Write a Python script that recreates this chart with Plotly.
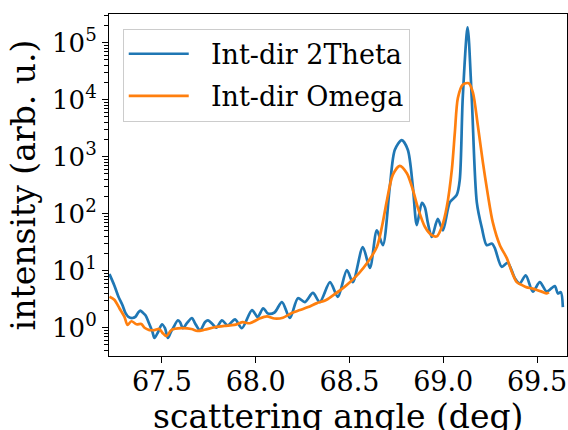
import plotly.graph_objects as go

# Int-dir 2Theta (blue)
x_2theta = [67.220, 67.246, 67.268, 67.289, 67.305, 67.321, 67.342, 67.358, 67.374, 67.385,
            67.396, 67.412, 67.428, 67.449, 67.460, 67.480, 67.500, 67.516, 67.532, 67.548,
            67.559, 67.585, 67.596, 67.612, 67.633, 67.660, 67.676, 67.703, 67.730, 67.745,
            67.770, 67.790, 67.820, 67.850, 67.890, 67.926, 67.980, 68.010, 68.040, 68.065,
            68.100, 68.140, 68.182, 68.225, 68.262, 68.305, 68.342, 68.396, 68.438, 68.486,
            68.518, 68.571, 68.609, 68.646, 68.678, 68.715, 68.742, 68.779, 68.811, 68.838,
            68.859, 68.886, 68.902, 68.918, 68.939, 68.971, 68.998, 69.035, 69.072, 69.088,
            69.104, 69.130, 69.152, 69.179, 69.206, 69.232, 69.259, 69.275, 69.312, 69.344,
            69.382, 69.408, 69.440, 69.478, 69.515, 69.552, 69.595, 69.611, 69.627, 69.638]
y_2theta = [8.7, 5.5, 3.5, 2.5, 1.82, 1.55, 1.48, 1.55, 1.86, 2.0,
            1.86, 1.66, 1.26, 0.85, 0.66, 0.85, 1.15, 0.98, 0.66, 0.85,
            0.98, 1.35, 1.26, 0.98, 1.2, 1.48, 1.2, 0.9, 1.26, 1.35,
            1.15, 1.0, 1.35, 1.1, 1.4, 0.98, 2.04, 1.54, 2.19, 1.77,
            1.85, 2.82, 1.48, 3.3, 2.82, 4.07, 2.82, 6.3, 3.47, 10.2,
            6.3, 26.0, 11.2, 51.0, 28.0, 295.0, 1320.0, 1950.0, 1320.0, 295.0,
            63.0, 155.0, 130.0, 69.0, 39.0, 81.0, 51.0, 158.0, 214.0, 389.0,
            10700.0, 186000.0, 10700.0, 158.0, 56.0, 28.0, 30.0, 25.0, 11.7, 13.8,
            7.4, 6.0, 8.3, 4.3, 6.3, 4.3, 5.4, 4.0, 4.2, 2.3]

# Int-dir Omega (orange)
x_omega = [67.220, 67.246, 67.273, 67.300, 67.316, 67.337, 67.364, 67.390, 67.407, 67.433,
           67.460, 67.486, 67.503, 67.524, 67.550, 67.604, 67.657, 67.689, 67.726, 67.780,
           67.833, 67.886, 67.929, 67.969, 68.020, 68.060, 68.100, 68.145, 68.190, 68.236,
           68.280, 68.326, 68.370, 68.412, 68.460, 68.502, 68.550, 68.593, 68.646, 68.673,
           68.700, 68.731, 68.768, 68.806, 68.838, 68.865, 68.902, 68.939, 68.966, 68.993,
           69.019, 69.046, 69.062, 69.078, 69.104, 69.136, 69.158, 69.184, 69.211, 69.238,
           69.264, 69.302, 69.339, 69.366, 69.392, 69.420, 69.446, 69.472, 69.499, 69.525,
           69.552, 69.563]
y_omega = [3.5, 3.1, 2.2, 1.55, 1.12, 1.3, 1.15, 1.16, 1.0, 0.91,
           0.91, 0.95, 0.81, 0.71, 0.91, 0.98, 0.95, 0.88, 0.92, 1.02,
           1.08, 1.12, 1.25, 1.2, 1.45, 1.58, 1.45, 1.5, 1.8, 2.04,
           2.3, 2.7, 3.0, 3.7, 4.8, 6.3, 9.0, 13.5, 26.0, 59.0,
           174.0, 479.0, 692.0, 513.0, 263.0, 126.0, 59.0, 42.0, 40.0, 59.0,
           132.0, 600.0, 2690.0, 10700.0, 18200.0, 19500.0, 13500.0, 3630.0, 813.0, 214.0,
           71.0, 28.0, 16.6, 9.5, 6.3, 5.6, 5.1, 4.9, 4.6, 4.3,
           4.0, 4.2]

series_names = ["\u00a0\u00a0Int-dir 2Theta", "\u00a0\u00a0Int-dir Omega"]
x_title = "scattering angle (deg)"
y_title = "intensity (arb. u.)"
x_tickvals = [67.5, 68.0, 68.5, 69.0, 69.5]
x_ticktext = ["67.5", "68.0", "68.5", "69.0", "69.5"]
y_tickvals = [1, 10, 100, 1000, 10000, 100000]
y_ticktext = ["10<sup>0</sup>", "10<sup>1</sup>", "10<sup>2</sup>",
              "10<sup>3</sup>", "10<sup>4</sup>", "10<sup>5</sup>"]

FONT = "DejaVu Serif"

fig = go.Figure()
fig.add_trace(go.Scatter(x=x_2theta, y=y_2theta, mode="lines", name=series_names[0],
                         legendgroup="a",
                         line=dict(color="#1f77b4", width=2.7, shape="spline", smoothing=0.8)))
fig.add_trace(go.Scatter(x=x_omega, y=y_omega, mode="lines", name=series_names[1],
                         legendgroup="b",
                         line=dict(color="#ff7f0e", width=2.7, shape="spline", smoothing=0.8)))

axis_common = dict(showline=True, linecolor="black", linewidth=1.1, mirror=True,
                   ticks="outside", ticklen=6, tickwidth=1.1, tickcolor="black",
                   showgrid=False, zeroline=False, automargin=False)

fig.update_layout(
    width=568, height=430,
    margin=dict(l=109, r=1, t=14, b=74),
    paper_bgcolor="white", plot_bgcolor="white",
    font=dict(family=FONT, color="black"),
    showlegend=True,
    legend=dict(x=0.03, y=0.957, xanchor="left", yanchor="top",
                bgcolor="rgba(255,255,255,0.8)", bordercolor="#cccccc", borderwidth=1,
                font=dict(family=FONT, size=27, color="black"),
                tracegroupgap=4, itemwidth=60),
    xaxis=dict(range=[67.2175, 69.66], tickmode="array", tickvals=x_tickvals,
               ticktext=x_ticktext, ticklabelstandoff=-4,
               tickfont=dict(family=FONT, size=27, color="black"),
               **axis_common),
    yaxis=dict(type="log", range=[-0.496, 5.503], tickmode="array", tickvals=y_tickvals,
               ticktext=y_ticktext,
               tickfont=dict(family=FONT, size=26, color="black"),
               minor=dict(ticks="outside", ticklen=3.5, tickwidth=0.8, tickcolor="black",
                          dtick="D1", showgrid=False),
               title=dict(text=y_title, font=dict(family=FONT, size=33), standoff=6),
               **axis_common),
    annotations=[dict(text=x_title, xref="paper", yref="paper", x=0.5, y=0,
                      xanchor="center", yanchor="top", yshift=-39, showarrow=False,
                      font=dict(family=FONT, size=33, color="black"))],
)

fig.write_html("out.html")
